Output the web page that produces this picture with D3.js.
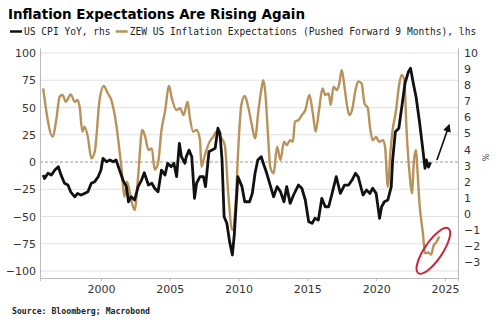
<!DOCTYPE html>
<html>
<head>
<meta charset="utf-8">
<script src="https://cdn.jsdelivr.net/npm/d3@7"></script>
<style>
  body { margin: 0; background: #fff; }
  svg { display: block; }
  .tick text { font-family: "DejaVu Sans", sans-serif; font-size: 10px; fill: #333; }
</style>
</head>
<body>
<svg id="Vis" width="500" height="329"></svg>
<script>
// ZEW US inflation expectations (pushed forward 9 months), left axis
const zewSeries = [
  [1995.8, 67.6], [1996.5, 23.2], [1996.75, 38.5], [1997.0, 60], [1997.2, 61.5], [1997.45, 55.3],
  [1997.8, 62], [1998.1, 55.3], [1998.3, 57], [1998.45, 50.7], [1998.65, 27.8], [1998.8, 32.4],
  [1999.05, 23], [1999.3, 3.4], [1999.55, 9.5], [1999.9, 57], [2000.2, 69.7], [2000.5, 63],
  [2000.75, 57], [2001.1, 35.5], [2001.5, -7], [2001.7, -31.8], [2001.9, -18], [2002.2, -35],
  [2002.45, -44], [2002.7, -13.5], [2003.0, 29.4], [2003.2, 24], [2003.45, 11], [2003.7, 12.5],
  [2003.9, -7], [2004.15, -1], [2004.4, 29.4], [2004.65, 46], [2004.95, 69.7], [2005.15, 58.4],
  [2005.5, 47.7], [2005.75, 49.3], [2006.0, 43], [2006.3, 55.3], [2006.45, 41.6], [2006.7, 27.8],
  [2006.95, 29.4], [2007.2, 20], [2007.3, -4.3], [2007.55, 6.4], [2007.9, 18.6], [2008.15, 23],
  [2008.4, 27.8], [2008.7, 23], [2009.0, 15.6], [2009.25, -28.7], [2009.55, -62.4], [2009.8, -35],
  [2010.0, 17], [2010.2, 52], [2010.45, 60.5], [2010.7, 50.7], [2010.95, 35], [2011.2, 21.7],
  [2011.45, 47.7], [2011.65, 66], [2011.8, 75], [2011.95, 63], [2012.15, 23], [2012.3, -4.3],
  [2012.55, -10.4], [2012.8, 14], [2013.05, 1.8], [2013.3, 18.6], [2013.5, 15.6], [2013.75, 20],
  [2013.95, 18.6], [2014.1, 37], [2014.35, 38.5], [2014.6, 43], [2014.85, 47.7], [2015.15, 61.5],
  [2015.4, 44.7], [2015.6, 27.8], [2015.85, 47.7], [2016.1, 67.6], [2016.3, 61.5], [2016.55, 63],
  [2016.7, 52.3], [2016.9, 69], [2017.15, 66], [2017.3, 70.6], [2017.5, 84.4], [2017.7, 69],
  [2017.9, 50.7], [2018.05, 43], [2018.25, 47.7], [2018.5, 66], [2018.7, 74], [2018.95, 72],
  [2019.15, 53.9], [2019.4, 49.3], [2019.55, 32.4], [2019.75, 20], [2020.0, 23], [2020.2, 18.6],
  [2020.5, 20], [2020.65, 14], [2020.85, -22.7], [2021.05, 11], [2021.2, 29.4], [2021.45, 47.7],
  [2021.65, 69], [2021.85, 79.8], [2022.05, 75], [2022.2, 32.4], [2022.45, -13.5], [2022.6, -28.7],
  [2022.75, 1.8], [2022.9, 11], [2023.0, -7], [2023.15, -38], [2023.4, -65.4], [2023.55, -83.7],
  [2023.8, -83], [2024.0, -85], [2024.15, -77.7], [2024.4, -73], [2024.6, -68.5]
];

// US CPI YoY %, right axis
const cpiSeries = [
  [1995.8, 2.41], [1995.9, 2.2], [1996.15, 2.52], [1996.4, 2.41], [1996.65, 2.72], [1996.9, 2.93],
  [1997.1, 2.41], [1997.35, 1.9], [1997.6, 1.79], [1997.8, 1.37], [1998.1, 1.06], [1998.3, 1.27],
  [1998.55, 1.17], [1998.8, 1.27], [1999.05, 1.37], [1999.3, 1.9], [1999.55, 2.0], [1999.8, 2.31],
  [2000.0, 2.72], [2000.15, 3.45], [2000.4, 3.24], [2000.65, 3.35], [2000.9, 3.24], [2001.1, 3.35],
  [2001.35, 2.72], [2001.6, 2.1], [2001.85, 1.69], [2002.0, 0.75], [2002.2, 1.06], [2002.45, 0.86],
  [2002.7, 1.69], [2002.95, 2.1], [2003.15, 2.55], [2003.45, 1.79], [2003.7, 1.9], [2003.9, 1.59],
  [2004.15, 1.37], [2004.4, 2.72], [2004.65, 2.41], [2004.85, 3.14], [2005.1, 2.93], [2005.3, 3.14],
  [2005.5, 2.31], [2005.7, 4.38], [2005.85, 3.55], [2006.1, 3.14], [2006.2, 3.55], [2006.4, 3.96],
  [2006.6, 3.55], [2006.8, 0.96], [2006.95, 1.9], [2007.2, 2.31], [2007.45, 2.31], [2007.6, 1.69],
  [2007.85, 3.86], [2008.05, 3.96], [2008.3, 4.07], [2008.5, 5.32], [2008.65, 5.01], [2008.8, 3.35],
  [2008.95, -0.18], [2009.15, -0.59], [2009.35, -1.73], [2009.55, -2.56], [2009.7, -1.21], [2009.95, 2.31],
  [2010.1, 2.0], [2010.25, 1.69], [2010.45, 0.75], [2010.8, 0.75], [2011.0, 1.27], [2011.2, 2.52],
  [2011.4, 3.35], [2011.65, 3.55], [2011.8, 3.14], [2012.05, 2.52], [2012.3, 1.79], [2012.55, 1.06],
  [2012.8, 1.69], [2013.05, 1.37], [2013.3, 0.75], [2013.5, 1.69], [2013.75, 0.65], [2014.0, 1.17],
  [2014.35, 1.79], [2014.6, 1.59], [2014.85, 0.86], [2015.1, -0.49], [2015.35, -0.59], [2015.55, -0.28],
  [2015.8, -0.39], [2016.05, 0.96], [2016.3, 0.44], [2016.55, 0.44], [2016.8, 1.27], [2017.1, 2.31],
  [2017.4, 1.27], [2017.7, 1.79], [2018.0, 1.79], [2018.25, 2.1], [2018.5, 2.52], [2018.7, 2.3],
  [2018.95, 1.48], [2019.05, 1.17], [2019.3, 1.48], [2019.55, 1.27], [2019.75, 1.59], [2020.0, 1.27],
  [2020.25, -0.28], [2020.4, 0.44], [2020.6, 0.75], [2020.85, 0.86], [2021.1, 1.69], [2021.2, 3.35],
  [2021.4, 5.11], [2021.65, 5.32], [2021.9, 6.87], [2022.1, 8.12], [2022.35, 8.84], [2022.5, 9.05],
  [2022.7, 8.12], [2022.9, 7.28], [2023.15, 5.73], [2023.4, 3.96], [2023.55, 2.83], [2023.65, 3.35],
  [2023.8, 2.9], [2023.95, 3.2]
];

const leftTicks = [-100, -75, -50, -25, 0, 25, 50, 75, 100];
const rightTicks = [-3, -2, -1, 0, 1, 2, 3, 4, 5, 6, 7, 8, 9, 10];
const yearTicks = [2000, 2005, 2010, 2015, 2020, 2025];

const titleText = "Inflation Expectations Are Rising Again";
const legendItems = [
  { label: "US CPI YoY, rhs", color: "#111" },
  { label: "ZEW US Inflation Expectations (Pushed Forward 9 Months), lhs", color: "#b8925a" }
];
const sourceText = "Source: Bloomberg; Macrobond";

// annotations (in data units)
const arrowFrom = [2024.42, 3.35], arrowTo = [2025.3, 5.5];     // rhs
const ringCenter = [2024.16, -81.5];                             // lhs

const margin = { top: 48, bottom: 51, left: 40, right: 42 };
const svg = d3.select("svg#Vis");
const width = +svg.attr("width"), height = +svg.attr("height");
const plotWidth = width - margin.left - margin.right;
const plotHeight = height - margin.top - margin.bottom;

const x = d3.scaleLinear().domain([1995.57, 2025.95]).range([0, plotWidth]);
const yL = d3.scaleLinear().domain([-106.4, 104.6]).range([plotHeight, 0]);
const yR = d3.scaleLinear().domain([-3.99, 10.31]).range([plotHeight, 0]);

/* TITLE + LEGEND */
svg.append("text")
  .attr("x", 8).attr("y", 19)
  .style("font-family", "'DejaVu Sans', sans-serif")
  .style("font-weight", "bold")
  .style("font-size", "14px")
  .attr("textLength", 297).attr("lengthAdjust", "spacingAndGlyphs")
  .text(titleText);

const legend = svg.append("g").attr("transform", "translate(10,35)");
let lx = 0;
legendItems.forEach(item => {
  legend.append("line")
    .attr("x1", lx).attr("x2", lx + 12).attr("y1", -3.5).attr("y2", -3.5)
    .attr("stroke", item.color).attr("stroke-width", 2.5);
  const t = legend.append("text")
    .attr("x", lx + 14).attr("y", 0)
    .style("font-family", "'DejaVu Sans Mono', monospace")
    .style("font-size", "9.6px")
    .attr("fill", "#222")
    .text(item.label);
  lx += 14 + t.node().getComputedTextLength() + 5;
});

const plot = svg.append("g").attr("transform", "translate(" + margin.left + "," + margin.top + ")");

/* GRID */
plot.append("g").selectAll("line")
  .data(leftTicks)
  .join("line")
  .attr("x1", 0).attr("x2", plotWidth)
  .attr("y1", d => yL(d)).attr("y2", d => yL(d))
  .attr("stroke", d => d === 0 ? "#999" : "#e2e2e2")
  .attr("stroke-dasharray", d => d === 0 ? "3,2" : null)
  .attr("stroke-width", 1);

/* AXES */
const xAxis = d3.axisBottom(x).tickValues(yearTicks).tickFormat(d3.format("d")).tickSize(3).tickPadding(4);
const yAxisL = d3.axisLeft(yL).tickValues(leftTicks).tickSize(0).tickPadding(4);
const yAxisR = d3.axisRight(yR).tickValues(rightTicks).tickSize(0).tickPadding(6);

const xg = plot.append("g").attr("transform", "translate(0," + plotHeight + ")").call(xAxis);
const ylg = plot.append("g").call(yAxisL);
const yrg = plot.append("g").attr("transform", "translate(" + plotWidth + ",0)").call(yAxisR);
[xg, ylg, yrg].forEach(g => {
  g.select(".domain").attr("stroke", "#bbb");
  g.selectAll(".tick line").attr("stroke", "#bbb");
  g.selectAll("text").style("font-size", "11px");
});

plot.append("text")
  .attr("transform", "translate(" + (plotWidth + 24) + "," + yR(3.5) + ") rotate(90)")
  .attr("text-anchor", "middle")
  .style("font-family", "'DejaVu Sans', sans-serif")
  .style("font-size", "8px")
  .attr("fill", "#444")
  .text("%");

/* LINES */
const lineL = d3.line().x(d => x(d[0])).y(d => yL(d[1])).curve(d3.curveMonotoneX);
const lineR = d3.line().x(d => x(d[0])).y(d => yR(d[1]));

plot.append("path").datum(zewSeries)
  .attr("d", lineL).attr("fill", "none")
  .attr("stroke", legendItems[1].color).attr("stroke-width", 2.4)
  .attr("stroke-linejoin", "round");

plot.append("path").datum(cpiSeries)
  .attr("d", lineR).attr("fill", "none")
  .attr("stroke", legendItems[0].color).attr("stroke-width", 2.8)
  .attr("stroke-linejoin", "round");

/* ANNOTATIONS */
svg.append("defs").append("marker")
  .attr("id", "head").attr("viewBox", "0 0 10 10")
  .attr("refX", 8).attr("refY", 5)
  .attr("markerWidth", 5).attr("markerHeight", 5)
  .attr("orient", "auto")
  .append("path").attr("d", "M0,0 L10,5 L0,10 Z").attr("fill", "#111");

plot.append("line")
  .attr("x1", x(arrowFrom[0])).attr("y1", yR(arrowFrom[1]))
  .attr("x2", x(arrowTo[0])).attr("y2", yR(arrowTo[1]))
  .attr("stroke", "#111").attr("stroke-width", 1.6)
  .attr("marker-end", "url(#head)");

plot.append("ellipse")
  .attr("transform", "translate(" + x(ringCenter[0]) + "," + yL(ringCenter[1]) + ") rotate(-56)")
  .attr("rx", 27).attr("ry", 9)
  .attr("fill", "none").attr("stroke", "#c8283c").attr("stroke-width", 2);

/* SOURCE */
svg.append("text")
  .attr("x", 12).attr("y", 314)
  .style("font-family", "'DejaVu Sans Mono', monospace")
  .style("font-weight", "bold")
  .style("font-size", "8.2px")
  .attr("fill", "#222")
  .text(sourceText);
</script>
</body>
</html>
